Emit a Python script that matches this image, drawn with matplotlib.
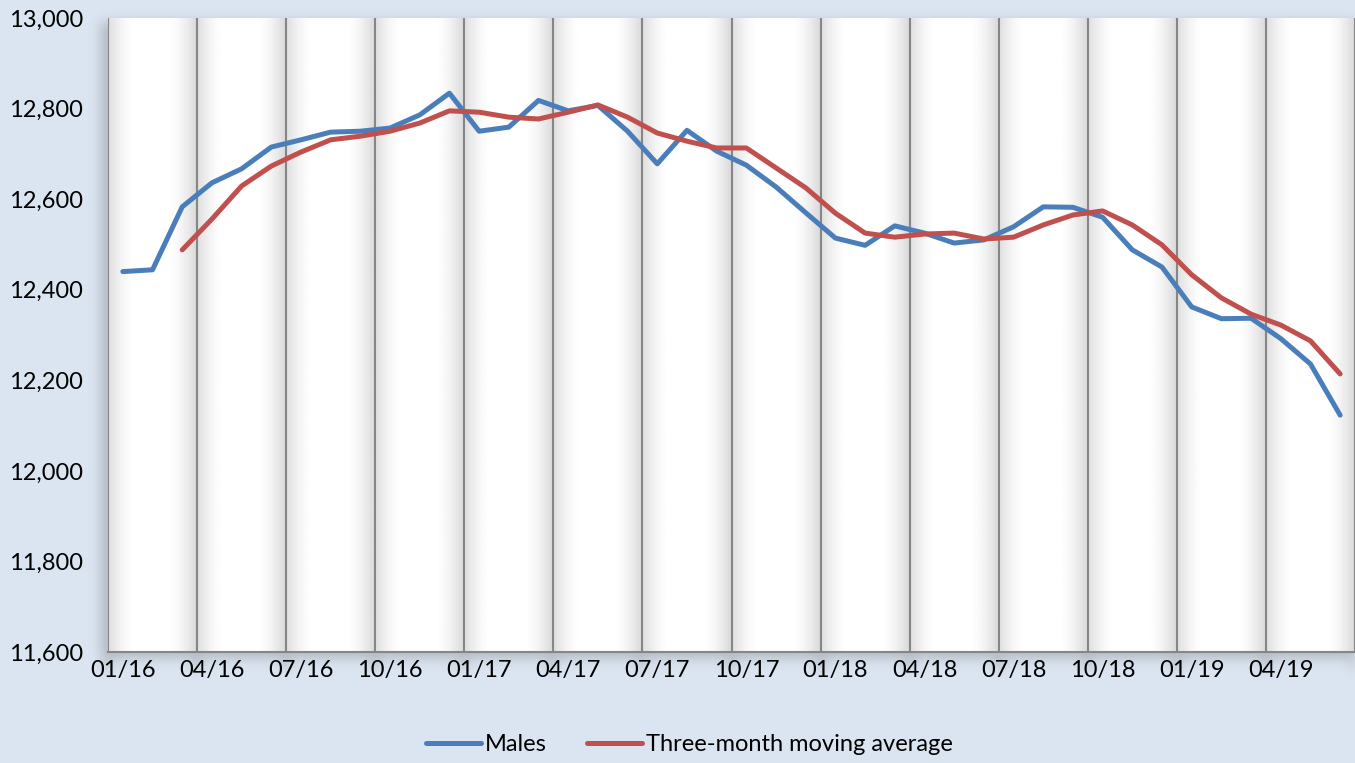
import numpy as np
import matplotlib
matplotlib.use("Agg")
import matplotlib.pyplot as plt
from matplotlib.ticker import FuncFormatter

# monthly values, Jan 2016 .. Jun 2019
males = [12440, 12444, 12583, 12636, 12667, 12715, 12731, 12748, 12750, 12757,
         12786, 12834, 12750, 12759, 12818, 12795, 12807, 12750, 12678, 12752,
         12706, 12675, 12627, 12570, 12514, 12498, 12541, 12525, 12503, 12510,
         12539, 12583, 12582, 12560, 12488, 12450, 12362, 12336, 12337, 12292,
         12236, 12123]
# three-month moving average, starts at Mar 2016
moving_avg = [12488, 12556, 12629, 12673, 12704, 12731, 12739, 12750, 12768,
              12795, 12792, 12781, 12777, 12792, 12808, 12781, 12746, 12728,
              12713, 12713, 12669, 12625, 12569, 12525, 12516, 12523, 12525,
              12512, 12516, 12543, 12565, 12574, 12543, 12499, 12433, 12382,
              12346, 12322, 12287, 12214]
tick_labels = ["01/16", "04/16", "07/16", "10/16", "01/17", "04/17", "07/17",
               "10/17", "01/18", "04/18", "07/18", "10/18", "01/19", "04/19"]

BG = "#dbe5f1"
BLUE = "#4a7ebb"
RED = "#c0504d"
GRID = "#868686"

plt.rcParams["font.family"] = ["Lato", "DejaVu Sans"]

W, H = 1355, 763
fig = plt.figure(figsize=(W / 100, H / 100), dpi=100, facecolor=BG)

# soft drop shadow behind the plot area
L, R, T, B = 108, 1355, 18, 652
mask = np.zeros((H, W))
mask[T + 4:B + 6, L - 7:W] = 1.0
n_months = len(males)
step = (R - L) / n_months
for k in range(0, n_months + 1, 3):
    gx = int(round(L + k * step))
    mask[B:B + 18, max(gx - 4, 0):min(gx + 3, W)] = 1.0
ker = np.exp(-0.5 * (np.arange(-18, 19) / 6.0) ** 2)
ker /= ker.sum()
blur = np.apply_along_axis(lambda r: np.convolve(r, ker, mode="same"), 1, mask)
blur = np.apply_along_axis(lambda c: np.convolve(c, ker, mode="same"), 0, blur)
shadow = np.zeros((H, W, 4))
shadow[..., :3] = 0.35
shadow[..., 3] = 0.32 * blur
bg_ax = fig.add_axes([0, 0, 1, 1], zorder=-1)
bg_ax.imshow(shadow, aspect="auto", extent=(0, W, H, 0))
bg_ax.set_xlim(0, W)
bg_ax.set_ylim(H, 0)
bg_ax.axis("off")

ax = fig.add_axes([L / W, 1 - B / H, (R - L) / W, (B - T) / H])
ax.set_xlim(-0.5, n_months - 0.5)
ax.set_ylim(11600, 13000)

# cylinder-like shading in each quarter band
t = np.linspace(0, 1, 120)
band = (1 - 0.13 * np.clip(1 - t / 0.3, 0, 1) ** 1.6
        - 0.15 * np.clip((t - 0.68) / 0.32, 0, 1) ** 1.6)
strip = np.tile(band, n_months // 3)[None, :]
ax.imshow(strip, cmap="gray", vmin=0, vmax=1, aspect="auto",
          extent=(-0.5, n_months - 0.5, 11600, 13000), zorder=0,
          interpolation="bilinear")

x = np.arange(n_months)
ax.plot(x, males, color=BLUE, lw=3.6, solid_capstyle="round",
        solid_joinstyle="round", label="Males", zorder=3)
ax.plot(x[2:], moving_avg, color=RED, lw=3.6, solid_capstyle="round",
        solid_joinstyle="round", label="Three-month moving average", zorder=4)

ax.set_xticks(np.arange(0, n_months, 3))
ax.set_xticklabels(tick_labels)
ax.set_xticks(np.arange(-0.5, n_months, 3), minor=True)
ax.grid(True, which="minor", axis="x", color=GRID, lw=1.5)
ax.grid(False, which="major")
ax.set_yticks(np.arange(11600, 13001, 200))
ax.yaxis.set_major_formatter(FuncFormatter(lambda v, p: f"{int(v):,}"))
ax.tick_params(axis="both", which="both", length=0, labelsize=17,
               colors="black")
ax.tick_params(axis="x", pad=6)
ax.tick_params(axis="y", pad=18)

for side in ("top", "right", "left"):
    ax.spines[side].set_visible(False)
ax.spines["bottom"].set_color(GRID)
ax.spines["bottom"].set_linewidth(1.5)

fig.legend(loc="center", bbox_to_anchor=(0.509, 0.024), ncol=2,
           frameon=False, fontsize=17, handlelength=2.3, columnspacing=1.7,
           handletextpad=0.2)

fig.savefig("out.png", dpi=100, facecolor=BG)
